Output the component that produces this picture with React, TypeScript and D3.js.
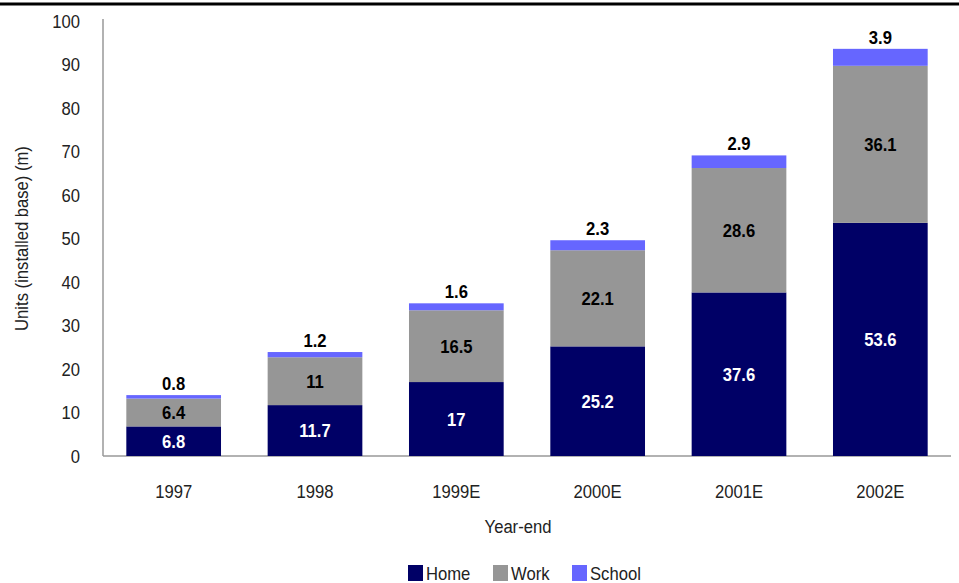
import React from "react";
import * as d3 from "d3";

const categories = ["1997", "1998", "1999E", "2000E", "2001E", "2002E"];
const home = [6.8, 11.7, 17, 25.2, 37.6, 53.6];
const work = [6.4, 11, 16.5, 22.1, 28.6, 36.1];
const school = [0.8, 1.2, 1.6, 2.3, 2.9, 3.9];
const yTicks = [0, 10, 20, 30, 40, 50, 60, 70, 80, 90, 100];
const seriesNames = ["Home", "Work", "School"];
const colors = ["#000066", "#969696", "#6666FF"];

const W = 959;
const H = 583;
const M = { left: 103, right: 951, top: 21, bottom: 456 };
const FONT = "'Liberation Sans', Arial, sans-serif";
const SX = 0.9;

function T(props: { x: number; y: number; anchor?: string; size?: number; weight?: string; fill?: string; rotate?: number; dy?: string; children: any }) {
  const { x, y, anchor = "start", size = 18.5, weight = "normal", fill = "#222", rotate = 0, dy, children } = props;
  return (
    <g transform={`translate(${x},${y}) rotate(${rotate}) scale(${SX},1)`}>
      <text x={0} y={0} dy={dy} textAnchor={anchor} fontSize={size} fontWeight={weight} fill={fill}>{children}</text>
    </g>
  );
}

export default function App() {
  const x = d3.scaleBand().domain(categories).range([M.left, M.right]).paddingInner(0.33).paddingOuter(0.165);
  const y = d3.scaleLinear().domain([0, 100]).range([M.bottom, M.top]);
  const rows = categories.map((c, i) => ({ cat: c, Home: home[i], Work: work[i], School: school[i] }));
  const stack = d3.stack<any>().keys(seriesNames)(rows);
  const bw = x.bandwidth();

  return (
    <svg width={W} height={H} style={{ position: "absolute", left: 0, top: 0, background: "#fff" }} fontFamily={FONT}>
      <line x1={0} x2={W} y1={4} y2={4} stroke="#000" strokeWidth={3} />
      <line x1={M.left} x2={M.left} y1={19} y2={M.bottom} stroke="#999" strokeWidth={1.5} />
      <line x1={M.left} x2={M.right} y1={M.bottom} y2={M.bottom} stroke="#999" strokeWidth={1.5} />
      {yTicks.map((t) => (
        <T key={t} x={80} y={y(t)} dy="0.36em" anchor="end">{t}</T>
      ))}
      {categories.map((c) => (
        <T key={c} x={(x(c) as number) + bw / 2} y={498} anchor="middle">{c}</T>
      ))}
      {stack.map((s, si) => (
        <g key={s.key}>
          {s.map((d, i) => (
            <rect key={i} x={x(categories[i]) as number} width={bw} y={y(d[1])} height={y(d[0]) - y(d[1])} fill={colors[si]} />
          ))}
        </g>
      ))}
      {stack.map((s, si) => (
        <g key={"l" + s.key}>
          {s.map((d, i) => {
            const cx = (x(categories[i]) as number) + bw / 2;
            const val = si === 0 ? home[i] : si === 1 ? work[i] : school[i];
            const ly = si === 2 ? y(d[1]) - 12 : (y(d[0]) + y(d[1])) / 2;
            return (
              <T key={i} x={cx} y={ly} dy="0.36em" anchor="middle" weight="bold" fill={si === 0 ? "#fff" : "#000"}>{val}</T>
            );
          })}
        </g>
      ))}
      <T x={518} y={533} anchor="middle">Year-end</T>
      <T x={28} y={(M.top + M.bottom) / 2} rotate={-90} anchor="middle">Units (installed base) (m)</T>
      {seriesNames.map((n, i) => {
        const lx = [408, 493, 572][i];
        return (
          <g key={n}>
            <rect x={lx} y={565} width={15} height={16} fill={colors[i]} />
            <T x={lx + 18} y={580}>{n}</T>
          </g>
        );
      })}
    </svg>
  );
}
